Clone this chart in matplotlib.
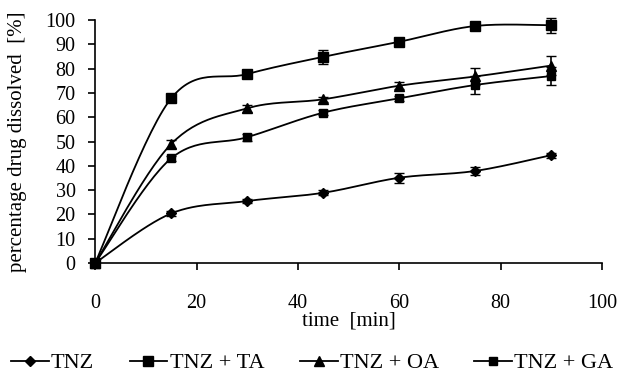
import matplotlib.pyplot as plt
import numpy as np

plt.rcParams['font.family'] = ['Liberation Serif', 'DejaVu Serif']

time_min = [0, 15, 30, 45, 60, 75, 90]
tnz = [0, 20.4, 25.5, 28.9, 35.1, 37.9, 44.4]
tnz_ta = [0, 67.8, 77.8, 84.9, 91.1, 97.6, 97.9]
tnz_oa = [0, 49, 63.7, 67.4, 73, 76.8, 81.3]
tnz_ga = [0, 43.1, 51.8, 61.9, 67.8, 73.3, 77]

err_tnz = [0, 1, 1, 1, 2, 1.5, 1]
err_ta = [0, 1, 1, 3, 1.5, 1, 3]
err_oa = [0, 1.5, 1.5, 1, 1.5, 3.4, 3.8]
err_ga = [0, 1, 1.5, 1, 1, 3.8, 3.7]

series = [
    ("TNZ", tnz, err_tnz, "D", 5),
    ("TNZ + TA", tnz_ta, err_ta, "s", 7),
    ("TNZ + OA", tnz_oa, err_oa, "^", 7),
    ("TNZ + GA", tnz_ga, err_ga, "s", 6),
]


def smooth(x, y, n=30):
    # bezier through the points, like a spreadsheet "smoothed line"
    x = np.asarray(x, float)
    y = np.asarray(y, float)
    px = np.concatenate([[x[0]], x, [x[-1]]])
    py = np.concatenate([[y[0]], y, [y[-1]]])
    xs, ys = [], []
    t = np.linspace(0, 1, n)
    for i in range(1, len(px) - 2):
        p0 = np.array([px[i], py[i]])
        p3 = np.array([px[i + 1], py[i + 1]])
        p1 = p0 + (p3 - np.array([px[i - 1], py[i - 1]])) / 6
        p2 = p3 - (np.array([px[i + 2], py[i + 2]]) - p0) / 6
        b = ((1 - t) ** 3)[:, None] * p0 + (3 * (1 - t) ** 2 * t)[:, None] * p1 \
            + (3 * (1 - t) * t ** 2)[:, None] * p2 + (t ** 3)[:, None] * p3
        xs.extend(b[:, 0])
        ys.extend(b[:, 1])
    return xs, ys


fig = plt.figure(figsize=(6.22, 3.73), dpi=100)
ax = fig.add_axes([0.153, 0.295, 0.815, 0.651])

for name, vals, err, mk, ms in series:
    sx, sy = smooth(time_min, vals)
    ax.plot(sx, sy, color='black', lw=1.3, clip_on=False)
    ax.errorbar(time_min, vals, yerr=err, fmt='none', ecolor='black',
                elinewidth=1.2, capsize=3.5, clip_on=False)
    ax.plot(time_min, vals, linestyle='none', marker=mk, markersize=ms,
            color='black', clip_on=False)
    ax.plot([], [], color='black', lw=1.3, marker=mk, markersize=ms, label=name)

ax.set_xlim(0, 100)
ax.set_ylim(0, 100)
ax.set_xticks(range(0, 101, 20))
ax.set_yticks(range(0, 101, 10))
ax.spines['top'].set_visible(False)
ax.spines['right'].set_visible(False)
ax.spines['left'].set_linewidth(1.2)
ax.spines['bottom'].set_linewidth(1.2)
ax.tick_params(labelsize=14.5, direction='out', length=5, width=1.2)
ax.tick_params(axis='x', pad=17)
ax.tick_params(axis='y', pad=9)
ax.set_xlabel("time  [min]", fontsize=15)
ax.set_ylabel("percentage drug dissolved  [%]", fontsize=15)
ax.xaxis.set_label_coords(0.5, -0.2)
ax.yaxis.set_label_coords(-0.134, 0.5)

fig.legend(loc='center', bbox_to_anchor=(0.502, 1 - 363 / 373), ncol=4,
           frameon=False, fontsize=16, handlelength=1.7, handletextpad=0.1,
           columnspacing=1.6, borderpad=0, borderaxespad=0)

fig.savefig("out.png", dpi=100)
